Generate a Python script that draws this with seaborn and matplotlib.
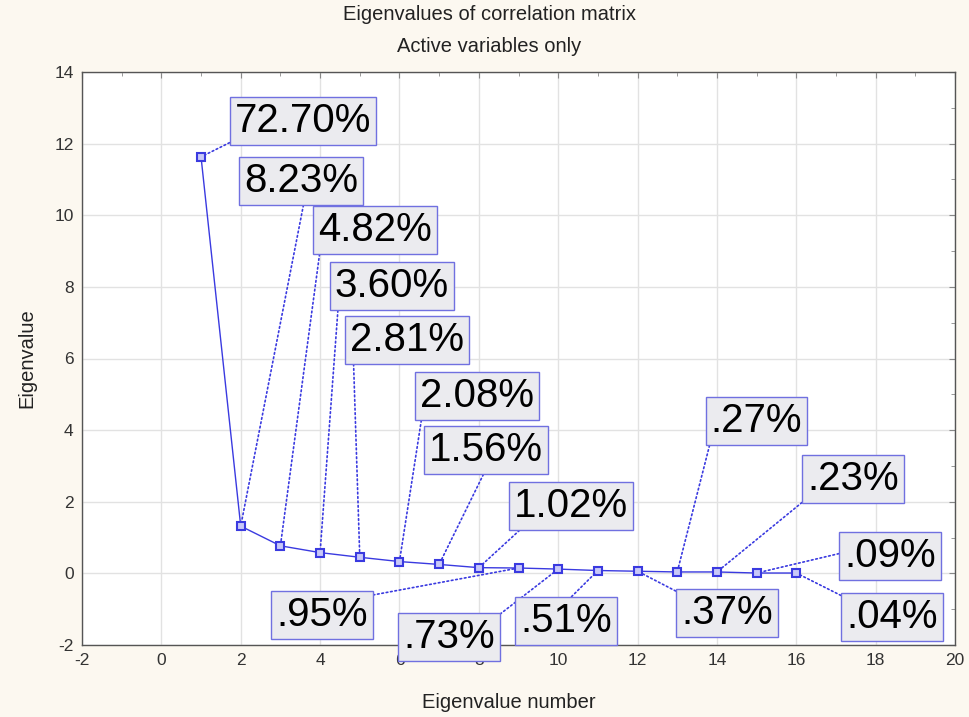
import numpy as np
import pandas as pd
import seaborn as sns
import matplotlib.pyplot as plt
from matplotlib.ticker import MultipleLocator

# Valores
numero = [1, 2, 3, 4, 5, 6, 7, 8, 9, 10, 11, 12, 13, 14, 15, 16]
autovalor = [11.63, 1.32, 0.77, 0.58, 0.45, 0.33, 0.25, 0.16,
             0.15, 0.12, 0.08, 0.06, 0.04, 0.04, 0.01, 0.01]
etiquetas = ["72.70%", "8.23%", "4.82%", "3.60%", "2.81%", "2.08%", "1.56%", "1.02%",
             ".95%", ".73%", ".51%", ".37%", ".27%", ".23%", ".09%", ".04%"]

# Posicion (centro) de cada caja de etiqueta, en unidades de datos
pos_etiquetas = [(3.57, 12.63), (3.52, 10.96), (5.38, 9.59), (5.81, 8.02),
                 (6.19, 6.52), (7.95, 4.95), (8.18, 3.44), (10.32, 1.88),
                 (4.05, -1.16), (7.25, -1.78), (10.2, -1.33), (14.25, -1.1),
                 (15.0, 4.25), (17.43, 2.63), (18.36, 0.48), (18.41, -1.22)]
# Punto de la caja donde se engancha la linea guia
anclas = [(0, 0), (0.53, 0), (0.02, 0), (0.03, 0), (0.03, 0), (0.02, 0), (0.5, 0), (0.1, 0),
          (1, 1), (1, 1), (0.5, 1), (0, 1), (0, 0), (0, 0), (0, 0.6), (0, 1)]

df = pd.DataFrame({"Eigenvalue number": numero, "Eigenvalue": autovalor})

sns.set_style("whitegrid")
plt.rcParams["font.family"] = ["Liberation Sans", "DejaVu Sans"]
plt.rcParams["axes.unicode_minus"] = False

azul = "#3a3ae0"

fig = plt.figure(figsize=(9.69, 7.17), dpi=100, facecolor="#fcf8f0")
ax = fig.add_axes([0.0846, 0.1004, 0.901, 0.7992])
ax.set_facecolor("white")

sns.lineplot(data=df, x="Eigenvalue number", y="Eigenvalue", ax=ax,
             color=azul, linewidth=1, marker="s", markersize=6,
             markerfacecolor="#c8c8f8", markeredgecolor=azul, markeredgewidth=1.5)

for x, y, txt, (tx, ty), rp in zip(numero, autovalor, etiquetas, pos_etiquetas, anclas):
    ax.annotate(txt, xy=(x, y), xytext=(tx, ty), textcoords="data",
                ha="center", va="center", fontsize=29, color="black",
                bbox=dict(boxstyle="square,pad=0.12", facecolor="#ebebef",
                          edgecolor="#7070e0", linewidth=1),
                arrowprops=dict(arrowstyle="-", linestyle=":", color=azul,
                                lw=1.2, shrinkA=0, shrinkB=3, relpos=rp),
                zorder=5)

# Ejes
ax.set_xlim(-2, 20)
ax.set_ylim(-2, 14)
ax.xaxis.set_major_locator(MultipleLocator(2))
ax.yaxis.set_major_locator(MultipleLocator(2))
ax.xaxis.set_minor_locator(MultipleLocator(1))
ax.yaxis.set_minor_locator(MultipleLocator(1))
ax.tick_params(which="both", direction="in", top=True, right=True,
               labelsize=12.5, labelcolor="#333333", color="#888888", pad=6)
ax.tick_params(which="major", length=4)
ax.tick_params(which="minor", length=3)
ax.grid(True, which="major", color="#e2e2e2", linewidth=1)
ax.set_xlabel("")
ax.set_ylabel("")
for s in ax.spines.values():
    s.set_edgecolor("#555555")
    s.set_linewidth(1)

# Titulos y etiquetas de ejes
fig.text(0.505, 0.980, "Eigenvalues of correlation matrix", ha="center", va="center",
         fontsize=14.5, color="#222222")
fig.text(0.505, 0.935, "Active variables only", ha="center", va="center",
         fontsize=14.5, color="#222222")
fig.text(0.525, 0.02, "Eigenvalue number", ha="center", va="center",
         fontsize=14.5, color="#222222")
fig.text(0.028, 0.5, "Eigenvalue", ha="center", va="center", rotation=90,
         fontsize=14.5, color="#222222")

plt.savefig("out.png", dpi=100, facecolor=fig.get_facecolor())
